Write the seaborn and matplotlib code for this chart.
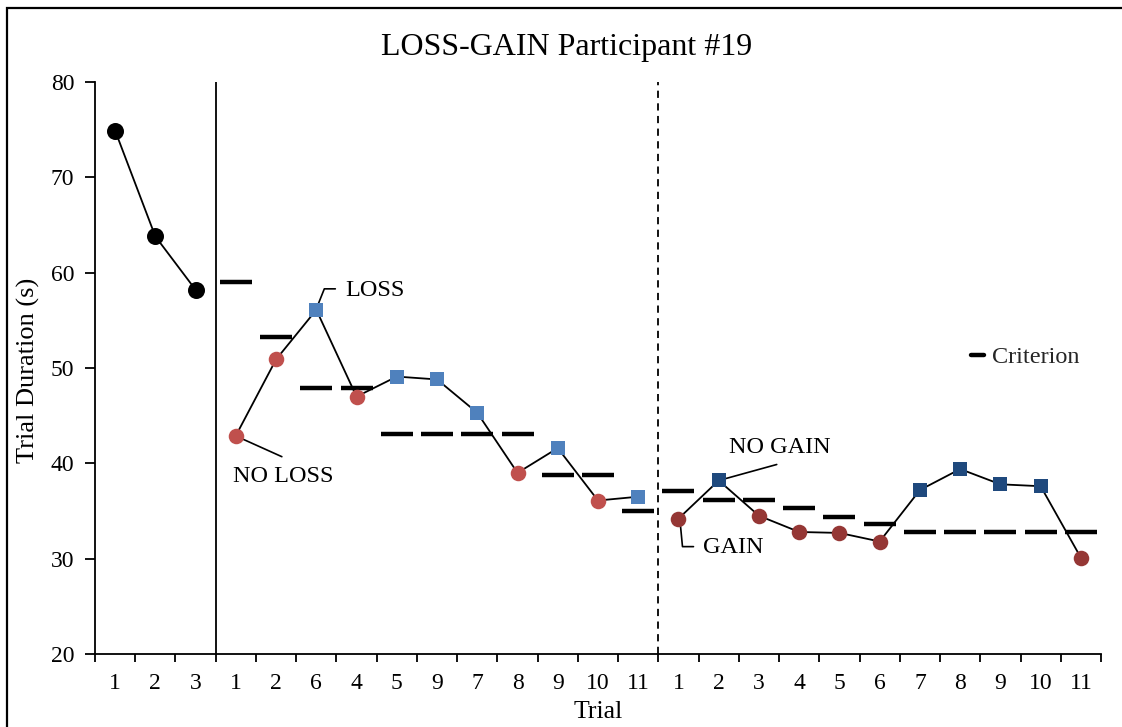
import numpy as np
import pandas as pd
import matplotlib
matplotlib.use("Agg")
import matplotlib.pyplot as plt
from matplotlib.lines import Line2D
from matplotlib.patches import Rectangle
import seaborn as sns

# ---- data -------------------------------------------------------------
tick_labels = ['1', '2', '3',
               '1', '2', '6', '4', '5', '9', '7', '8', '9', '10', '11',
               '1', '2', '3', '4', '5', '6', '7', '8', '9', '10', '11']

baseline = [74.9, 63.8, 58.2]

loss_values = [42.9, 50.9, 56.1, 47.0, 49.1, 48.8, 45.3, 39.0, 41.6, 36.1, 36.5]
loss_outcome = ['NO LOSS', 'NO LOSS', 'LOSS', 'NO LOSS', 'LOSS', 'LOSS', 'LOSS',
                'NO LOSS', 'LOSS', 'NO LOSS', 'LOSS']
loss_criterion = [59.0, 53.2, 47.9, 47.9, 43.1, 43.1, 43.1, 43.1, 38.8, 38.8, 35.0]

gain_values = [34.2, 38.2, 34.5, 32.8, 32.7, 31.8, 37.2, 39.4, 37.8, 37.6, 30.1]
gain_outcome = ['GAIN', 'NO GAIN', 'GAIN', 'GAIN', 'GAIN', 'GAIN', 'NO GAIN',
                'NO GAIN', 'NO GAIN', 'NO GAIN', 'GAIN']
gain_criterion = [37.1, 36.2, 36.2, 35.3, 34.4, 33.6, 32.8, 32.8, 32.8, 32.8, 32.8]

# ---- tidy frame --------------------------------------------------------
n_b, n_l, n_g = len(baseline), len(loss_values), len(gain_values)
df = pd.DataFrame({
    'pos': np.arange(n_b + n_l + n_g),
    'duration': baseline + loss_values + gain_values,
    'phase': ['baseline'] * n_b + ['loss'] * n_l + ['gain'] * n_g,
    'outcome': ['BASELINE'] * n_b + loss_outcome + gain_outcome,
})
crit = pd.DataFrame({
    'pos': np.arange(n_b, n_b + n_l + n_g),
    'criterion': loss_criterion + gain_criterion,
})

palette = {'BASELINE': '#000000', 'NO LOSS': '#C0504D', 'LOSS': '#4F81BD',
           'GAIN': '#953735', 'NO GAIN': '#1F497D'}
markers = {'BASELINE': 'o', 'NO LOSS': 'o', 'LOSS': 's', 'GAIN': 'o', 'NO GAIN': 's'}
sizes = {'BASELINE': 150, 'NO LOSS': 125, 'LOSS': 115, 'GAIN': 125, 'NO GAIN': 115}

# ---- figure ------------------------------------------------------------
sns.set_theme(style='white')
plt.rcParams['font.family'] = ['Liberation Serif', 'DejaVu Serif']

W, H = 1122, 727
fig = plt.figure(figsize=(W / 100, H / 100), dpi=100)
ax = fig.add_axes([95 / W, 1 - 654 / H, (1101 - 95) / W, (654 - 82) / H])

# connecting lines, one per phase
sns.lineplot(data=df, x='pos', y='duration', units='phase', estimator=None,
             color='black', lw=1.3, sort=False, ax=ax, legend=False, zorder=2)

# criterion dashes
sns.scatterplot(data=crit, x='pos', y='criterion', marker='_', s=23 ** 2,
                color='black', linewidth=3.2, ax=ax, legend=False, zorder=2)

# outcome markers
for outcome, sub in df.groupby('outcome'):
    sns.scatterplot(data=sub, x='pos', y='duration', color=palette[outcome],
                    marker=markers[outcome], s=sizes[outcome], linewidth=0,
                    ax=ax, legend=False, zorder=3)

# phase separators
ax.axvline(n_b - 0.5, color='black', lw=1.3, zorder=1)
ax.axvline(n_b + n_l - 0.5, color='black', lw=1.3, ls=(0, (4, 3)), zorder=1)

# axes styling
ax.set_xlim(-0.5, len(tick_labels) - 0.5)
ax.set_ylim(20, 80)
ax.set_yticks(np.arange(20, 81, 10))
ax.set_xticks(np.arange(len(tick_labels)))
ax.set_xticklabels(tick_labels)
ax.set_xticks(np.arange(len(tick_labels) + 1) - 0.5, minor=True)
ax.tick_params(axis='x', which='major', length=0, pad=14, labelsize=17, colors='black')
ax.tick_params(axis='x', which='minor', length=6, width=1.3, direction='out',
               bottom=True, color='black')
ax.tick_params(axis='y', length=7, width=1.3, direction='out', left=True,
               pad=8, labelsize=17, colors='black')
for side in ('top', 'right'):
    ax.spines[side].set_visible(False)
for side in ('left', 'bottom'):
    ax.spines[side].set_color('black')
    ax.spines[side].set_linewidth(1.3)
ax.set_xlabel('Trial', fontsize=18.5, color='black', labelpad=5)
ax.set_ylabel('')
ax.grid(False)

fig.text(28 / W, 1 - 370 / H, 'Trial Duration (s)', rotation=90,
         ha='center', va='center', fontsize=19, color='black')
fig.text(567 / W, 1 - 48 / H, 'LOSS-GAIN Participant #19',
         ha='center', va='center', fontsize=23, color='black')

# outer frame
fig.patches.append(Rectangle((7 / W, -0.1), 1.2, 1 - 8 / H + 0.1,
                             transform=fig.transFigure, fill=False,
                             edgecolor='black', lw=1.6))


# callouts: leader lines and labels placed by pixel offsets from a point
def callout(idx, text, path, text_off):
    x0, y0 = ax.transData.transform((idx, df['duration'][idx]))
    pts = [ax.transData.inverted().transform((x0 + dx, y0 + dy)) for dx, dy in path]
    pts = np.array(pts)
    ax.plot(pts[:, 0], pts[:, 1], color='black', lw=1.2, zorder=1, clip_on=False)
    tx, ty = ax.transData.inverted().transform((x0 + text_off[0], y0 + text_off[1]))
    ax.text(tx, ty, text, ha='left', va='center', fontsize=17.5, color='black')


fig.canvas.draw()
callout(n_b + 2, 'LOSS', [(2, 6), (8, 21), (19, 21)], (29, 19))
callout(n_b + 0, 'NO LOSS', [(6, -3), (46, -21)], (-3, -41))
callout(n_b + n_l + 1, 'NO GAIN', [(0, 0), (58, 16)], (10, 33))
callout(n_b + n_l + 0, 'GAIN', [(2, -7), (4, -28), (15, -28)], (25, -29))

# legend
handle = Line2D([], [], color='black', lw=3.2)
ax.legend([handle], ['Criterion'], loc='center left',
          bbox_to_anchor=(971 / W, 1 - 357 / H), bbox_transform=fig.transFigure,
          frameon=False, fontsize=17.5, handlelength=0.55, handletextpad=0.3,
          borderpad=0, borderaxespad=0)

fig.savefig('out.png', dpi=100)
